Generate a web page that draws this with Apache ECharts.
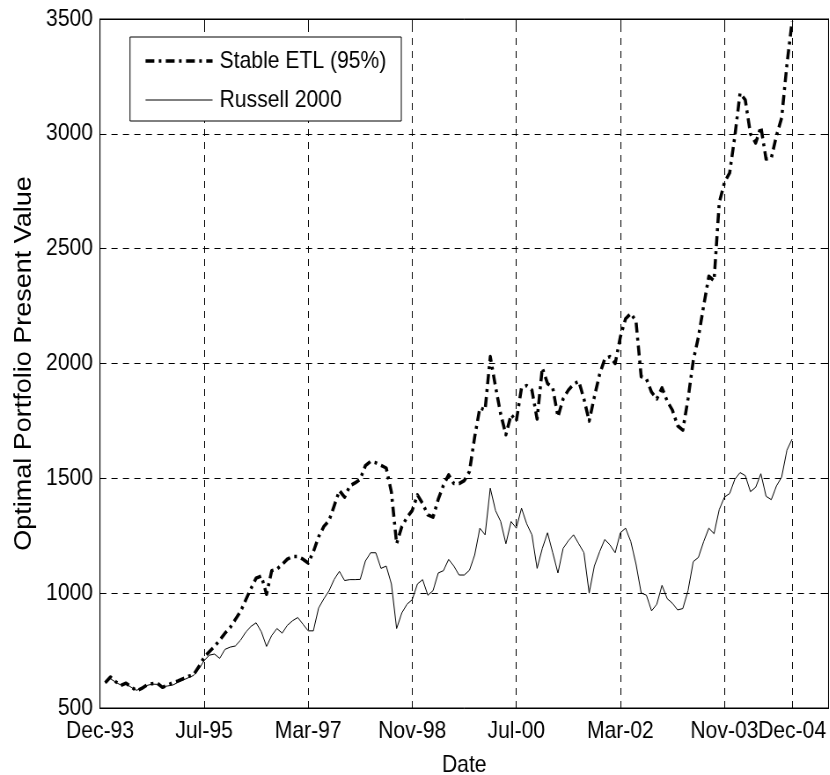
<!DOCTYPE html>
<html>
<head>
<meta charset="utf-8">
<script src="https://cdn.jsdelivr.net/npm/echarts@6/dist/echarts.min.js"></script>
<style>
  html, body { margin: 0; padding: 0; background: #fff; overflow: hidden; }
  #frame { width: 830px; height: 775px; overflow: hidden; position: relative; }
  #chart { height: 775px; transform-origin: 0 0; position: absolute; left: 0; top: 0; }
</style>
</head>
<body>
<div id="frame"><div id="chart"></div></div>
<script>
// Monthly present value of the optimal portfolio, Dec-93 .. Dec-04 (month 1 .. 133)
const etlValues = [
  610, 635, 615, 598, 608, 592, 575, 585, 600, 606,
  608, 590, 600, 610, 618, 628, 638, 645, 680, 720,
  745, 768, 795, 825, 850, 885, 920, 970, 1020, 1065,
  1075, 995, 1098, 1105, 1125, 1148, 1160, 1160, 1148, 1131,
  1180, 1245, 1290, 1315, 1380, 1447, 1418, 1467, 1480, 1496,
  1555, 1574, 1568, 1556, 1545, 1440, 1215, 1290, 1330, 1360,
  1428, 1390, 1341, 1331, 1409, 1470, 1515, 1477, 1477, 1490,
  1530, 1680, 1807, 1797, 2030, 1900, 1780, 1690, 1778, 1749,
  1894, 1904, 1884, 1758, 1981, 1913, 1894, 1768, 1846, 1884,
  1910, 1923, 1846, 1749, 1855, 1952, 2020, 2030, 2000, 2116,
  2195, 2218, 2185, 1943, 1933, 1875, 1846, 1894, 1836, 1797,
  1729, 1710, 1846, 2011, 2116, 2250, 2380, 2360, 2700, 2788,
  2830, 2990, 3177, 3148, 3000, 2960, 3031, 2890, 2894, 2992,
  3070, 3300, 3490
];

const russellValues = [
  610, 628, 612, 600, 605, 590, 577, 586, 598, 604,
  603, 592, 596, 600, 612, 622, 632, 642, 670, 706,
  730, 735, 716, 755, 765, 770, 795, 830, 855, 871,
  832, 768, 816, 846, 826, 860, 880, 894, 865, 836,
  836, 935, 975, 1010, 1060, 1095, 1055, 1059, 1059, 1060,
  1140, 1176, 1176, 1108, 1118, 1040, 846, 914, 952, 972,
  1040, 1059, 991, 1011, 1088, 1098, 1147, 1118, 1079, 1079,
  1100, 1166, 1283, 1254, 1457, 1360, 1312, 1215, 1312, 1283,
  1370, 1302, 1254, 1108, 1195, 1263, 1176, 1088, 1195, 1228,
  1254, 1215, 1176, 1000, 1118, 1180, 1234, 1210, 1176, 1263,
  1283, 1225, 1127, 1001, 991, 923, 952, 1034, 976, 956,
  927, 933, 1011, 1137, 1156, 1224, 1283, 1259, 1364, 1418,
  1434, 1496, 1525, 1512, 1442, 1461, 1520, 1422, 1407, 1467,
  1506, 1622, 1671
];

// Date ticks on the month axis
const tickMonths = [0, 20, 40, 60, 80, 100, 120, 133];
const tickLabels = ['Dec-93', 'Jul-95', 'Mar-97', 'Nov-98', 'Jul-00', 'Mar-02', 'Nov-03', 'Dec-04'];
const gridMonths = [20, 40, 60, 80, 100, 120, 133];

const seriesNames = ['Stable ETL (95%)', 'Russell 2000'];

// The figure is drawn on a wider canvas and squeezed horizontally,
// which gives the condensed lettering of the exported figure.
const squeeze = 0.88;
const W = 830 / squeeze;
const hx = v => v / squeeze;   // horizontal distance in final pixels -> canvas pixels

const font = "'Liberation Sans', Arial, Helvetica, sans-serif";
const gridDash = [7, 6];

const toPoints = vals => vals.map((v, i) => [i + 1, v]);
const labelFor = v => tickLabels[tickMonths.indexOf(v)] || '';

// the last two date labels touch, so they are split over two bottom axes
const mainLabelMonths = tickMonths.slice(0, -1);
const endLabelMonths = tickMonths.slice(-1);

const el = document.getElementById('chart');
el.style.width = W + 'px';
el.style.transform = 'scaleX(' + squeeze + ')';

const chart = echarts.init(el, null, { renderer: 'canvas', width: W, height: 775 });

const tickCommon = {
  show: true, inside: true, length: 7,
  lineStyle: { color: '#000', width: 1 }
};

const dateLabel = months => ({
  show: true, customValues: months, margin: 11,
  hideOverlap: false, showMinLabel: true, showMaxLabel: true,
  fontFamily: font, fontSize: 24, color: '#000',
  formatter: labelFor
});

const option = {
  animation: false,
  backgroundColor: '#fff',
  textStyle: { fontFamily: font, color: '#000' },
  grid: {
    left: hx(100), right: hx(1.5), top: 19, bottom: 67,
    outerBoundsMode: 'none',
    containLabel: false,
    show: true, borderColor: '#000', borderWidth: 1, backgroundColor: '#fff'
  },
  legend: {
    data: seriesNames,
    orient: 'vertical',
    left: hx(130), top: 37,
    itemWidth: hx(67), itemHeight: 20, itemGap: 15,
    padding: [12, hx(15), 9, hx(14)],
    borderColor: '#000', borderWidth: 1, borderRadius: 0,
    backgroundColor: '#fff',
    itemStyle: { opacity: 0 },
    lineStyle: { width: 'inherit', type: 'inherit', opacity: 1 },
    textStyle: { fontFamily: font, fontSize: 24, color: '#000', padding: [0, 0, 0, 3] },
    selectedMode: false,
    z: 10
  },
  xAxis: [
    {
      type: 'value', min: 0, max: 140, position: 'bottom',
      name: 'Date', nameLocation: 'middle', nameGap: 45,
      nameTextStyle: { fontFamily: font, fontSize: 24, color: '#000' },
      axisLine: { show: true, onZero: false, lineStyle: { color: '#000', width: 1 } },
      axisTick: Object.assign({ customValues: tickMonths }, tickCommon),
      axisLabel: dateLabel(mainLabelMonths),
      splitLine: { show: false }
    },
    {
      type: 'value', min: 0, max: 140, position: 'top',
      axisLine: { show: true, onZero: false, lineStyle: { color: '#000', width: 1 } },
      axisTick: Object.assign({ customValues: tickMonths }, tickCommon),
      axisLabel: { show: false },
      splitLine: { show: false }
    },
    {
      type: 'value', min: 0, max: 140, position: 'bottom', offset: 0,
      axisLine: { show: false, onZero: false },
      axisTick: { show: false },
      axisLabel: dateLabel(endLabelMonths),
      splitLine: { show: false }
    }
  ],
  yAxis: [
    {
      type: 'value', min: 500, max: 3500, interval: 500, position: 'left',
      name: 'Optimal Portfolio Present Value', nameLocation: 'middle', nameGap: 63,
      nameTextStyle: { fontFamily: font, fontSize: 27, color: '#000' },
      axisLine: { show: true, onZero: false, lineStyle: { color: '#000', width: 1 } },
      axisTick: tickCommon,
      axisLabel: {
        show: true, margin: hx(7), fontFamily: font, fontSize: 24, color: '#000',
        formatter: v => String(v)
      },
      splitLine: { show: true, lineStyle: { color: '#000', width: 1, type: gridDash } }
    },
    {
      type: 'value', min: 500, max: 3500, interval: 500, position: 'right',
      axisLine: { show: true, onZero: false, lineStyle: { color: '#000', width: 1 } },
      axisTick: tickCommon,
      axisLabel: { show: false },
      splitLine: { show: false }
    }
  ],
  series: [
    {
      // vertical date grid lines
      name: 'dateGrid',
      type: 'line',
      data: [],
      silent: true,
      z: 1,
      markLine: {
        silent: true,
        symbol: ['none', 'none'],
        label: { show: false },
        lineStyle: { color: '#000', width: 1, type: gridDash },
        emphasis: { disabled: true },
        data: gridMonths.map(m => ({ xAxis: m }))
      }
    },
    {
      name: seriesNames[1],
      type: 'line',
      data: toPoints(russellValues),
      showSymbol: false,
      symbol: 'none',
      z: 3,
      lineStyle: { color: '#000', width: 1 },
      itemStyle: { color: '#000' }
    },
    {
      name: seriesNames[0],
      type: 'line',
      data: toPoints(etlValues),
      showSymbol: false,
      symbol: 'none',
      z: 4,
      lineStyle: { color: '#000', width: 3.5, type: [10, 5, 3, 5], cap: 'butt', join: 'round' },
      itemStyle: { color: '#000' }
    }
  ]
};

chart.setOption(option);
</script>
</body>
</html>
